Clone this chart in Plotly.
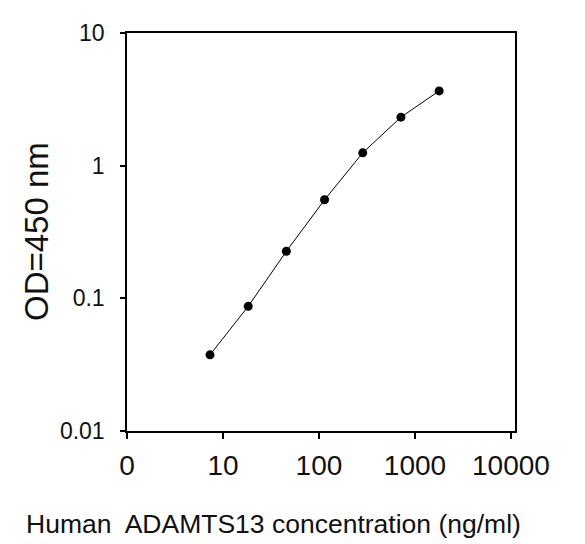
import plotly.graph_objects as go

# Data
concentration = [7.32, 18.3, 45.7, 114.3, 285.7, 714.3, 1786]
od450 = [0.0375, 0.087, 0.226, 0.553, 1.25, 2.32, 3.66]

x_tickvals = [1, 10, 100, 1000, 10000]
x_ticktext = ["0", "10", "100", "1000", "10000"]
y_tickvals = [0.01, 0.1, 1, 10]
y_ticktext = ["0.01", "0.1", "1", "10"]

FONT = "Liberation Sans, Arial, sans-serif"
OFF = 8  # page body margin

fig = go.Figure()
fig.add_trace(go.Scatter(
    x=concentration, y=od450, mode="lines+markers",
    line=dict(color="black", width=1),
    marker=dict(color="black", size=9),
    showlegend=False,
))

fig.update_layout(
    width=585 - OFF, height=544 - OFF,
    margin=dict(l=127 - OFF, r=70, t=23 - OFF, b=113),
    paper_bgcolor="white", plot_bgcolor="white",
    font=dict(family=FONT, color="#111"),
    xaxis=dict(
        type="log", range=[0, 4.042],
        tickvals=x_tickvals, ticktext=x_ticktext,
        ticks="outside", ticklen=6, tickwidth=1.5, tickcolor="black",
        showline=True, linecolor="black", linewidth=1.5, mirror=True,
        showgrid=False, zeroline=False,
        tickfont=dict(size=28, family=FONT, color="#111"),
        ticklabelstandoff=3,
    ),
    yaxis=dict(
        type="log", range=[-2, 1],
        tickvals=y_tickvals, ticktext=y_ticktext,
        ticks="outside", ticklen=5, tickwidth=1.5, tickcolor="black",
        showline=True, linecolor="black", linewidth=1.5, mirror=True,
        showgrid=False, zeroline=False,
        tickfont=dict(size=23, family=FONT, color="#111"),
        ticklabelstandoff=11,
    ),
    annotations=[
        dict(text="OD=450 nm", xref="paper", yref="paper",
             x=(36 - 127) / 388, y=0.5, xanchor="center", yanchor="middle",
             textangle=-90, showarrow=False,
             font=dict(size=33, family=FONT, color="#111")),
        dict(text="Human&nbsp; ADAMTS13 concentration (ng/ml)", xref="paper", yref="paper",
             x=(273 - 127) / 388, y=-(526 - 431) / 408, xanchor="center", yanchor="middle",
             showarrow=False,
             font=dict(size=26.5, family=FONT, color="#111")),
    ],
)

fig.write_html("out.html")
